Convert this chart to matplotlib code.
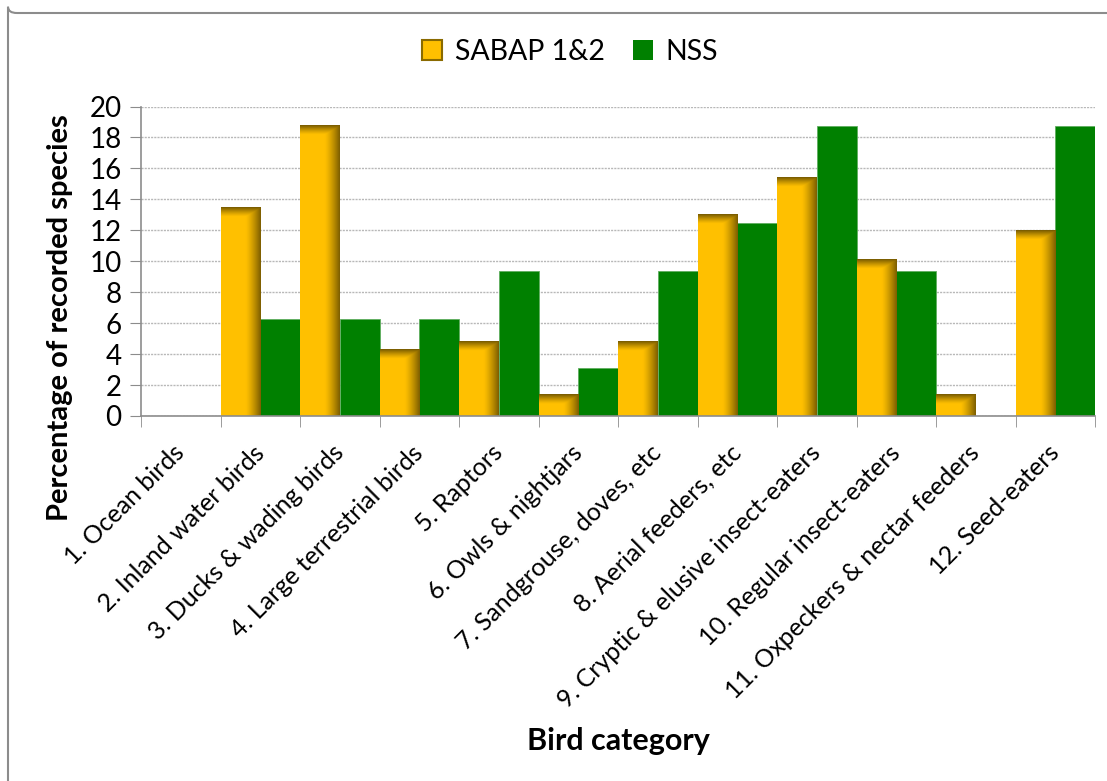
import numpy as np
import matplotlib
matplotlib.use("Agg")
from matplotlib import pyplot as plt
from matplotlib.patches import FancyBboxPatch, Rectangle
from matplotlib.transforms import ScaledTranslation

plt.rcParams['font.family'] = ['Lato', 'DejaVu Sans']

categories = ["1. Ocean birds", "2. Inland water birds", "3. Ducks & wading birds",
              "4. Large terrestrial birds", "5. Raptors", "6. Owls & nightjars",
              "7. Sandgrouse, doves, etc", "8. Aerial feeders, etc",
              "9. Cryptic & elusive insect-eaters", "10. Regular insect-eaters",
              "11. Oxpeckers & nectar feeders", "12. Seed-eaters"]
sabap = [0, 13.5, 18.8, 4.3, 4.8, 1.4, 4.8, 13.0, 15.4, 10.1, 1.4, 12.0]
nss = [0, 6.25, 6.25, 6.25, 9.375, 3.125, 9.375, 12.5, 18.75, 9.375, 0, 18.75]
yticks = [0, 2, 4, 6, 8, 10, 12, 14, 16, 18, 20]

GOLD = np.array([1.0, 0.753, 0.0])
DARK = np.array([0.49, 0.37, 0.0])
GREEN = "#008000"

W, H = 1107, 781
fig = plt.figure(figsize=(W / 100, H / 100), dpi=100)

# chart area border (Excel style, runs off the right/bottom edges)
fig.patches.append(FancyBboxPatch((8 / W, 1 - 13 / H), 1.2, -1.2,
                                  boxstyle="round,pad=0,rounding_size=0.008",
                                  transform=fig.transFigure, fill=False,
                                  edgecolor="#8c8c8c", linewidth=1.5))

ax = fig.add_axes([141 / W, 1 - 416 / H, (1095 - 141) / W, (416 - 106.5) / H])

x = np.arange(len(categories))
w = 0.5
gold_bars = ax.bar(x - w / 2, sabap, w, color="none", zorder=2)
ax.bar(x + w / 2, nss, w, color=GREEN, edgecolor="#5fae5f", linewidth=0.6, zorder=2)

# shaded gold bars: darker to the right and along the top edge
px_per_unit = (416 - 106.5) / 20
for rect in gold_bars:
    x0, bw, h = rect.get_x(), rect.get_width(), rect.get_height()
    if h <= 0:
        continue
    nx, ny = 80, max(int(h * px_per_unit), 2)
    u = np.linspace(0, 1, nx)
    v = np.arange(ny)[:, None] * (h * px_per_unit / ny)
    d_h = np.clip((u - 0.62) / 0.38, 0, 1) ** 1.3
    d_v = np.clip(1 - v / 9.0, 0, 1) ** 1.2
    d = np.maximum(d_h[None, :], d_v)
    img = GOLD[None, None, :] * (1 - d[..., None]) + DARK[None, None, :] * d[..., None]
    ax.imshow(img, extent=[x0, x0 + bw, 0, h], aspect="auto", zorder=2,
              interpolation="bilinear")

ax.set_xlim(-0.5, len(categories) - 0.5)
ax.set_ylim(0, 20)
ax.set_yticks(yticks)
ax.set_xticks(np.arange(len(categories) + 1) - 0.5, minor=True)
ax.set_xticks(x)
ax.set_xticklabels(categories, rotation=45, ha="right", va="top",
                   rotation_mode="anchor", fontsize=18)
ax.tick_params(axis="x", which="major", length=0, pad=18)
ax.tick_params(axis="x", which="minor", length=8, color="#8c8c8c")
ax.tick_params(axis="y", length=8, color="#8c8c8c", labelsize=20, pad=6)
shift = ScaledTranslation(-0.08, 0, fig.dpi_scale_trans)
for lab in ax.get_xticklabels():
    lab.set_transform(lab.get_transform() + shift)

for side in ["top", "right"]:
    ax.spines[side].set_visible(False)
for side in ["left", "bottom"]:
    ax.spines[side].set_color("#8c8c8c")
    ax.spines[side].set_linewidth(1.2)

ax.set_axisbelow(True)
ax.yaxis.grid(True, color="#b8b8b8", linestyle=(0, (1.5, 0.8)), linewidth=1)

handles = [Rectangle((0, 0), 1, 1, facecolor="#FFC000", edgecolor="#8a6a00", linewidth=1.5),
           Rectangle((0, 0), 1, 1, facecolor=GREEN)]
fig.legend(handles, ["SABAP 1&2", "NSS"], loc="center", bbox_to_anchor=(570 / W, 1 - 52 / H),
           ncol=2, frameon=False, fontsize=20.5, handlelength=0.7, handleheight=0.7,
           handletextpad=0.45, columnspacing=1.0)

fig.text(60 / W, 1 - 318 / H, "Percentage of recorded species", rotation=90,
         ha="center", va="center", fontsize=21, fontweight="bold")
fig.text(618 / W, 1 - 741 / H, "Bird category", ha="center", va="center",
         fontsize=22, fontweight="bold")

fig.savefig("out.png", dpi=100)
